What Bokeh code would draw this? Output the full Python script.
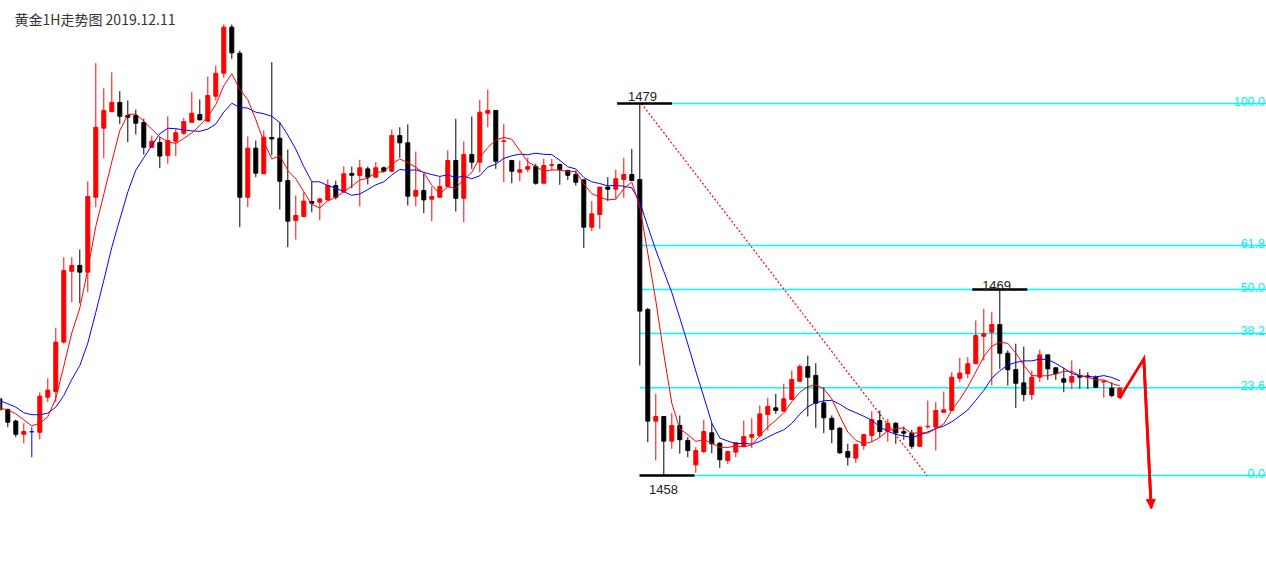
import numpy as np
import pandas as pd
from bokeh.plotting import figure
from bokeh.models import Range1d, ColumnDataSource, Label, Arrow, NormalHead
from bokeh.embed import file_html
from bokeh.resources import INLINE
from bokeh.core.properties import value

title_text = "黄金1H走势图 2019.12.11"

# ---- hourly gold candles (price) ----
opens = [1462.33, 1461.73, 1461.07, 1460.33, 1460.47, 1460.44, 1462.42, 1462.74, 1465.53, 1469.53,
         1469.86, 1469.48, 1473.71, 1477.61, 1478.55, 1479.06, 1478.32, 1478.32, 1477.93, 1476.53,
         1476.80, 1476.07, 1476.87, 1477.32, 1477.94, 1478.38, 1478.00, 1479.41, 1480.71, 1483.31,
         1481.84, 1473.71, 1476.48, 1475.03, 1477.08, 1477.04, 1474.65, 1472.40, 1472.62, 1473.47,
         1473.43, 1473.56, 1474.37, 1474.03, 1475.05, 1474.94, 1475.31, 1474.84, 1475.37, 1475.18,
         1477.19, 1476.78, 1473.77, 1474.09, 1473.60, 1473.71, 1474.31, 1475.78, 1473.65, 1476.12,
         1475.69, 1478.45, 1478.61, 1476.86, 1475.78, 1475.12, 1475.29, 1475.44, 1474.50, 1475.51,
         1475.56, 1475.22, 1474.99, 1474.69, 1472.02, 1472.73, 1474.28, 1474.16, 1474.71, 1474.99,
         1474.71, 1467.37, 1461.07, 1461.33, 1459.94, 1460.82, 1459.98, 1458.60, 1459.35, 1460.41,
         1459.82, 1458.85, 1459.32, 1459.65, 1460.16, 1460.26, 1461.44, 1461.82, 1461.63, 1462.29,
         1463.32, 1464.15, 1463.65, 1462.10, 1461.23, 1460.67, 1459.35, 1458.98, 1459.69, 1460.26,
         1461.10, 1460.50, 1460.95, 1460.48, 1460.39, 1459.65, 1460.75, 1460.73, 1461.57, 1461.67,
         1463.49, 1463.74, 1464.31, 1465.86, 1466.09, 1466.52, 1464.90, 1463.98, 1463.23, 1462.57,
         1463.55, 1464.81, 1464.08, 1463.46, 1463.27, 1463.65, 1463.62, 1463.55, 1463.28, 1462.93,
         1462.42]
highs = [1462.46, 1461.78, 1461.16, 1460.94, 1460.73, 1462.70, 1463.49, 1466.34, 1470.32, 1470.32,
         1470.76, 1474.60, 1481.28, 1479.86, 1480.77, 1479.70, 1479.17, 1478.66, 1478.14, 1477.19,
         1477.10, 1478.27, 1477.57, 1478.19, 1479.64, 1479.23, 1480.52, 1481.15, 1483.46, 1483.46,
         1481.99, 1477.14, 1476.91, 1477.48, 1481.33, 1477.94, 1476.40, 1473.81, 1473.99, 1474.58,
         1473.69, 1474.71, 1474.65, 1475.44, 1475.44, 1475.82, 1475.44, 1475.69, 1475.44, 1477.52,
         1477.66, 1477.82, 1476.29, 1475.03, 1474.31, 1474.84, 1476.35, 1478.14, 1476.86, 1478.27,
         1479.21, 1479.79, 1478.61, 1477.85, 1475.82, 1475.78, 1475.94, 1475.60, 1475.88, 1475.88,
         1475.60, 1475.26, 1475.22, 1474.69, 1473.49, 1474.28, 1474.84, 1475.26, 1475.94, 1476.44,
         1479.00, 1467.47, 1462.61, 1461.33, 1461.52, 1461.39, 1460.16, 1459.60, 1461.14, 1460.95,
         1459.88, 1459.35, 1459.88, 1461.10, 1461.23, 1461.95, 1462.39, 1462.61, 1463.18, 1463.93,
         1464.27, 1464.77, 1464.34, 1462.98, 1461.39, 1460.73, 1459.79, 1459.79, 1460.31, 1461.63,
         1461.67, 1461.20, 1461.01, 1460.77, 1460.58, 1460.77, 1462.23, 1462.14, 1462.74, 1463.83,
         1464.64, 1464.68, 1466.75, 1467.41, 1467.22, 1468.56, 1465.06, 1465.44, 1465.28, 1463.93,
         1465.10, 1464.81, 1464.11, 1464.08, 1464.49, 1464.02, 1463.83, 1463.65, 1463.36, 1463.27,
         1462.98]
lows = [1461.61, 1460.73, 1460.16, 1459.82, 1459.03, 1460.03, 1462.14, 1462.14, 1465.45, 1467.78,
        1467.73, 1468.35, 1473.15, 1475.91, 1478.49, 1477.85, 1476.82, 1477.25, 1476.12, 1476.53,
        1475.35, 1475.60, 1476.03, 1477.23, 1477.94, 1478.04, 1478.00, 1479.17, 1480.45, 1481.52,
        1472.02, 1473.15, 1474.84, 1475.03, 1476.07, 1473.02, 1470.89, 1471.32, 1472.58, 1472.86,
        1472.40, 1473.52, 1473.58, 1473.94, 1474.22, 1473.19, 1474.43, 1474.81, 1475.12, 1475.12,
        1475.94, 1473.24, 1473.19, 1472.81, 1472.36, 1473.68, 1474.28, 1472.90, 1472.30, 1475.31,
        1475.12, 1477.66, 1475.31, 1474.56, 1474.50, 1474.61, 1475.12, 1474.41, 1474.50, 1475.22,
        1474.41, 1474.69, 1474.37, 1470.85, 1471.79, 1471.93, 1473.49, 1473.62, 1473.68, 1474.65,
        1464.21, 1459.88, 1458.85, 1458.03, 1459.51, 1459.23, 1459.03, 1458.15, 1459.26, 1459.26,
        1458.43, 1458.66, 1459.03, 1459.60, 1459.56, 1460.16, 1460.54, 1461.48, 1461.63, 1462.29,
        1463.32, 1461.33, 1460.69, 1460.39, 1459.82, 1459.23, 1458.56, 1458.72, 1459.45, 1459.88,
        1460.16, 1459.92, 1459.79, 1460.02, 1459.51, 1459.64, 1460.64, 1459.41, 1461.57, 1461.67,
        1463.27, 1463.49, 1464.31, 1464.49, 1463.08, 1464.02, 1463.08, 1461.82, 1462.19, 1462.27,
        1463.27, 1463.40, 1463.40, 1462.70, 1462.89, 1462.89, 1462.89, 1462.95, 1462.39, 1462.42,
        1462.33]
closes = [1461.71, 1461.01, 1460.33, 1460.48, 1460.47, 1462.48, 1462.82, 1465.53, 1469.57, 1469.86,
          1469.48, 1473.75, 1477.66, 1478.61, 1479.06, 1478.28, 1478.23, 1477.89, 1476.53, 1476.87,
          1476.03, 1476.91, 1477.35, 1477.98, 1478.45, 1478.08, 1479.45, 1480.71, 1483.31, 1481.86,
          1473.71, 1476.48, 1475.07, 1477.10, 1477.00, 1474.61, 1472.36, 1472.68, 1473.49, 1473.37,
          1473.61, 1474.37, 1473.71, 1475.03, 1474.95, 1475.37, 1474.84, 1475.37, 1475.18, 1477.19,
          1476.78, 1473.77, 1474.09, 1473.56, 1473.75, 1474.31, 1475.78, 1473.65, 1476.12, 1475.69,
          1478.51, 1478.61, 1475.74, 1476.89, 1475.18, 1475.26, 1475.44, 1474.50, 1475.50, 1475.54,
          1475.26, 1474.95, 1474.56, 1472.02, 1472.77, 1474.28, 1474.16, 1474.75, 1474.99, 1474.65,
          1467.28, 1461.07, 1461.33, 1459.94, 1460.82, 1460.02, 1459.41, 1459.41, 1460.48, 1459.79,
          1458.89, 1459.35, 1459.85, 1460.20, 1460.31, 1461.48, 1461.90, 1461.67, 1462.33, 1463.42,
          1464.15, 1463.55, 1462.08, 1461.26, 1460.60, 1459.28, 1459.03, 1459.75, 1460.31, 1461.16,
          1460.48, 1460.95, 1460.41, 1460.39, 1459.65, 1460.73, 1460.78, 1461.67, 1461.71, 1463.55,
          1463.78, 1464.31, 1465.90, 1466.00, 1466.52, 1464.90, 1463.97, 1463.21, 1462.57, 1463.55,
          1464.81, 1464.02, 1463.74, 1463.27, 1463.59, 1463.55, 1463.56, 1462.98, 1463.33, 1462.52,
          1462.93]

# moving-average values at the left edge (earlier history is not on the chart)
ma5_head = [1461.80, 1461.71, 1461.48, 1461.14]
ma10_head = [1462.23, 1462.05, 1461.86, 1461.54, 1461.43, 1461.43, 1461.52, 1461.86, 1462.52]

# ---- Fibonacci retracement ----
swing_high = 1479.0
swing_low = 1458.0
fib_ratios = [100.0, 61.8, 50.0, 38.2, 23.6, 0.0]
fib_labels = ["100.0", "61.8", "50.0", "38.2", "23.6", "0.0"]

# ---- marked prices ----
mark_labels = ["1479", "1469", "1458"]
mark_prices = [1479.0, 1468.5, 1458.0]
mark_bars = [80.6, 125.0, 83.4]

# ---- dashed trend line and forecast arrow ----
trend_x = [80.2, 115.9]
trend_y = [1479.0, 1458.0]
arrow_x = [139.96, 143.0, 143.93]
arrow_y = [1462.36, 1464.59, 1456.14]

# ------------------------------------------------------------------
n = len(closes)
idx = np.arange(n)
o = np.array(opens); c = np.array(closes)
colors = ["#FF0000" if cc > oo else ("#000000" if cc < oo else "#0000FF") for oo, cc in zip(o, c)]

cs = pd.Series(closes)
ma5 = cs.rolling(5).mean().to_numpy()
ma5[:len(ma5_head)] = ma5_head
ma10 = cs.rolling(10).mean().to_numpy()
ma10[:len(ma10_head)] = ma10_head

W, H = 1266, 573
PX_PER_BAR = 8.0
PX_PER_PRICE = 17.714
X0 = 0.0875
Y0 = 1452.468
p = figure(width=W, height=H, output_backend="svg", toolbar_location=None,
           x_range=Range1d(X0, X0 + W / PX_PER_BAR),
           y_range=Range1d(Y0, Y0 + H / PX_PER_PRICE),
           x_axis_location=None, y_axis_location=None, min_border=0,
           background_fill_color="white", border_fill_color="white")
p.grid.visible = False
p.outline_line_color = None

# fib lines
rng = swing_high - swing_low
fib_prices = [swing_low + r / 100.0 * rng for r in fib_ratios]
p.segment(x0=[80.0] * len(fib_prices), x1=[170.0] * len(fib_prices), y0=fib_prices, y1=fib_prices,
          line_color="#00FFFF", line_width=1.5)
x_lab = X0 + (W - 1.5) / PX_PER_BAR
p.text(x=[x_lab] * len(fib_prices), y=[fp + 2.5 / PX_PER_PRICE for fp in fib_prices], text=fib_labels,
       text_align="right", text_baseline="alphabetic", text_color="#00F0F0",
       text_font=value("Liberation Sans"), text_font_size="12.5px")

# dashed diagonal
p.line(trend_x, trend_y, line_color="#FF0000", line_width=1.2, line_dash="2 2")

# candles
src = ColumnDataSource(dict(x=idx, o=o, c=c, h=highs, l=lows,
                            top=np.maximum(o, c), bot=np.minimum(o, c), col=colors))
p.segment(x0="x", x1="x", y0="l", y1="h", line_color="col", line_width=1, source=src)
p.vbar(x="x", width=0.5, top="top", bottom="bot", fill_color="col", line_color="col",
       line_width=1, source=src)

# moving averages
p.line(idx, ma10, line_color="#0000FF", line_width=1)
p.line(idx, ma5, line_color="#FF0000", line_width=1)

# marked prices
half = 55.0 / 16.0
p.segment(x0=[b - half for b in mark_bars], x1=[b + half for b in mark_bars],
          y0=mark_prices, y1=mark_prices, line_color="#000000", line_width=2.5)
label_dy = [7.0, 4.0, -14.0]
p.text(x=[80.34, 124.6, 82.96], y=[mp + d / PX_PER_PRICE for mp, d in zip(mark_prices, label_dy)],
       text=mark_labels, text_align="center", text_baseline="alphabetic", text_color="#222222",
       text_font=value("Liberation Sans"), text_font_size="13px")

# forecast arrow
p.line(arrow_x, arrow_y, line_color="#FF0000", line_width=2.8, line_join="miter")
p.add_layout(Arrow(end=NormalHead(size=9, fill_color="#FF0000", line_color="#FF0000", line_width=1),
                   x_start=arrow_x[1], y_start=arrow_y[1], x_end=arrow_x[2], y_end=arrow_y[2],
                   line_color="#FF0000", line_width=2.8))

# title
p.add_layout(Label(x=14, y=H - 18.5, x_units="screen", y_units="screen", text=title_text,
                   text_baseline="middle", text_align="left", text_color="#333333",
                   text_font="Noto Sans CJK SC", text_font_size="14px"))

open("out.html", "w").write(file_html(p, INLINE))
